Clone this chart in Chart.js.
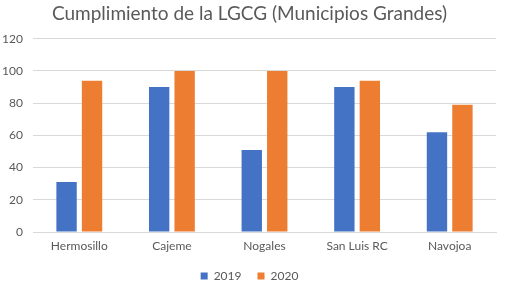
<!DOCTYPE html>
<html>
<head>
<meta charset="utf-8">
<script src="https://cdn.jsdelivr.net/npm/chart.js@4"></script>
<style>
  html, body { margin: 0; padding: 0; background: #fff; }
  #wrap { width: 508px; height: 289px; }
</style>
</head>
<body>
<div id="wrap"><canvas id="chart" width="508" height="289"></canvas></div>
<script>
const municipios = ['Hermosillo', 'Cajeme', 'Nogales', 'San Luis RC', 'Navojoa'];
const valores2019 = [31, 90, 51, 90, 62];
const valores2020 = [94, 100, 100, 94, 79];
const yTicks = [0, 20, 40, 60, 80, 100, 120];

Chart.defaults.font.family = 'Lato, "Open Sans", sans-serif';
Chart.defaults.color = '#595959';

new Chart(document.getElementById('chart').getContext('2d'), {
    type: 'bar',
    data: {
        labels: municipios,
        datasets: [
            { label: '2019', data: valores2019, backgroundColor: '#4472C4' },
            { label: '2020', data: valores2020, backgroundColor: '#ED7D31' }
        ]
    },
    options: {
        responsive: false,
        animation: false,
        layout: { padding: { left: 3, right: 12, top: 0, bottom: -3 } },
        datasets: { bar: { categoryPercentage: 0.55, barPercentage: 0.8 } },
        plugins: {
            title: {
                display: true,
                text: 'Cumplimiento de la LGCG (Municipios Grandes)',
                font: { size: 19, weight: 'normal' },
                color: '#595959',
                padding: { top: 2, bottom: 14 }
            },
            legend: {
                position: 'bottom',
                labels: { boxWidth: 7, boxHeight: 7, font: { size: 12 }, padding: 16 }
            },
            tooltip: { enabled: false }
        },
        scales: {
            x: {
                grid: { display: false, drawTicks: false },
                border: { color: '#d9d9d9' },
                ticks: { font: { size: 12 }, padding: 7 },
                afterFit: axis => { axis.height = 22; }
            },
            y: {
                min: 0,
                max: 120,
                afterBuildTicks: axis => { axis.ticks = yTicks.map(v => ({ value: v })); },
                afterFit: axis => { axis.width = 30; },
                grid: { color: '#d9d9d9', drawTicks: false },
                border: { display: false },
                ticks: { font: { size: 12 }, padding: 10 }
            }
        }
    }
});
</script>
</body>
</html>
